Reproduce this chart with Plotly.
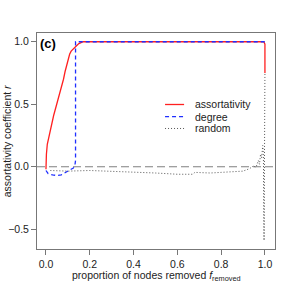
import plotly.graph_objects as go

# assortativity-based removal
assort_f = [0.0, 0.0005, 0.002, 0.006, 0.015, 0.025, 0.035, 0.049, 0.065, 0.08, 0.087, 0.095, 0.102, 0.108, 0.115, 0.125, 0.135, 0.15, 0.17, 0.3, 0.5, 0.7, 0.9, 0.995, 1.0, 1.0]
assort_r = [-0.02, 0.03, 0.1, 0.18, 0.26, 0.33, 0.41, 0.5, 0.6, 0.7, 0.76, 0.82, 0.87, 0.9, 0.925, 0.945, 0.96, 0.985, 1.0, 1.0, 1.0, 1.0, 1.0, 1.0, 0.98, 0.75]

# degree-based removal
degree_f = [0.0, 0.01, 0.03, 0.05, 0.07, 0.09, 0.11, 0.125, 0.132, 0.135, 0.135, 0.3, 0.5, 0.7, 0.9, 1.0]
degree_r = [-0.03, -0.055, -0.065, -0.07, -0.065, -0.045, -0.03, -0.01, 0.01, 0.05, 1.0, 1.0, 1.0, 1.0, 1.0, 1.0]

# random removal
random_f = [0.02, 0.1, 0.2, 0.3, 0.4, 0.5, 0.6, 0.67, 0.68, 0.75, 0.8, 0.85, 0.9, 0.93, 0.95, 0.955, 0.96, 0.97, 0.975, 0.98, 0.985, 0.99, 0.993, 0.996, 0.998, 1.0]
random_r = [-0.03, -0.035, -0.03, -0.035, -0.045, -0.05, -0.06, -0.06, -0.045, -0.05, -0.045, -0.04, -0.035, -0.015, 0.01, -0.005, 0.0, 0.05, 0.02, 0.1, 0.07, 0.17, 0.1, -0.59, 0.3, 0.75]

series_names = ["assortativity", "degree", "random"]
xticks = [0.0, 0.2, 0.4, 0.6, 0.8, 1.0]
yticks = [-0.5, 0.0, 0.5, 1.0]

styles = [
    dict(color="#ff2020", width=1.3),
    dict(color="#1f2fff", width=1.3, dash="4px,3px"),
    dict(color="#555555", width=1.0, dash="1px,2px"),
]

fig = go.Figure()
for name, xs, ys, st in zip(series_names, [assort_f, degree_f, random_f],
                            [assort_r, degree_r, random_r], styles):
    fig.add_trace(go.Scatter(x=xs, y=ys, mode="lines", name=name, line=st, showlegend=False))

fig.add_shape(type="line", xref="paper", yref="y", x0=0, x1=1, y0=0, y1=0,
              line=dict(color="#808080", width=1.2, dash="8px,4px"), layer="below")

# manual legend (compact, R-style)
leg_rows = [0.669, 0.613, 0.558]
for name, st, yy in zip(series_names, styles, leg_rows):
    fig.add_shape(type="line", xref="paper", yref="paper", x0=0.538, x1=0.618, y0=yy, y1=yy,
                  line=st)
    fig.add_annotation(text=name, xref="paper", yref="paper", x=0.655, y=yy,
                       xanchor="left", yanchor="middle", showarrow=False,
                       font=dict(size=10.5, color="#222222"))

fig.add_annotation(text="<b>(c)</b>", xref="paper", yref="paper", x=0.005, y=0.995,
                   xanchor="left", yanchor="top", showarrow=False,
                   font=dict(size=13, color="black"))

# axis titles
fig.add_annotation(text="proportion of nodes removed <i>f</i><sub>removed</sub>",
                   xref="paper", yref="paper", x=0.5, y=-0.125, xanchor="center", yanchor="middle",
                   showarrow=False, font=dict(size=10.5, color="#222222"))
fig.add_annotation(text="assortativity coefficient <i>r</i>", textangle=-90,
                   xref="paper", yref="paper", x=-0.125, y=0.5, xanchor="center", yanchor="middle",
                   showarrow=False, font=dict(size=10.5, color="#222222"))

axis_common = dict(showline=True, mirror=True, linecolor="#777777", linewidth=1,
                   ticks="outside", ticklen=5, tickcolor="#777777", showgrid=False,
                   zeroline=False, automargin=False, tickfont=dict(size=10.5, color="#222222"))

fig.update_layout(
    width=291, height=291,
    margin=dict(l=37, r=16, t=33, b=42, autoexpand=False),
    paper_bgcolor="white", plot_bgcolor="white",
    font=dict(family="Liberation Sans, Arial, sans-serif", color="#222222"),
    xaxis=dict(range=[-0.041, 1.046], tickvals=xticks, ticktext=[f"{v:.1f}" for v in xticks],
               **axis_common),
    yaxis=dict(range=[-0.658, 1.07], tickvals=yticks,
               ticktext=["\u22120.5", "0.0", "0.5", "1.0"],
               **axis_common),
    showlegend=False,
)

fig.write_html("out.html", config={"displayModeBar": False},
               post_script="document.body.style.margin='0';")
